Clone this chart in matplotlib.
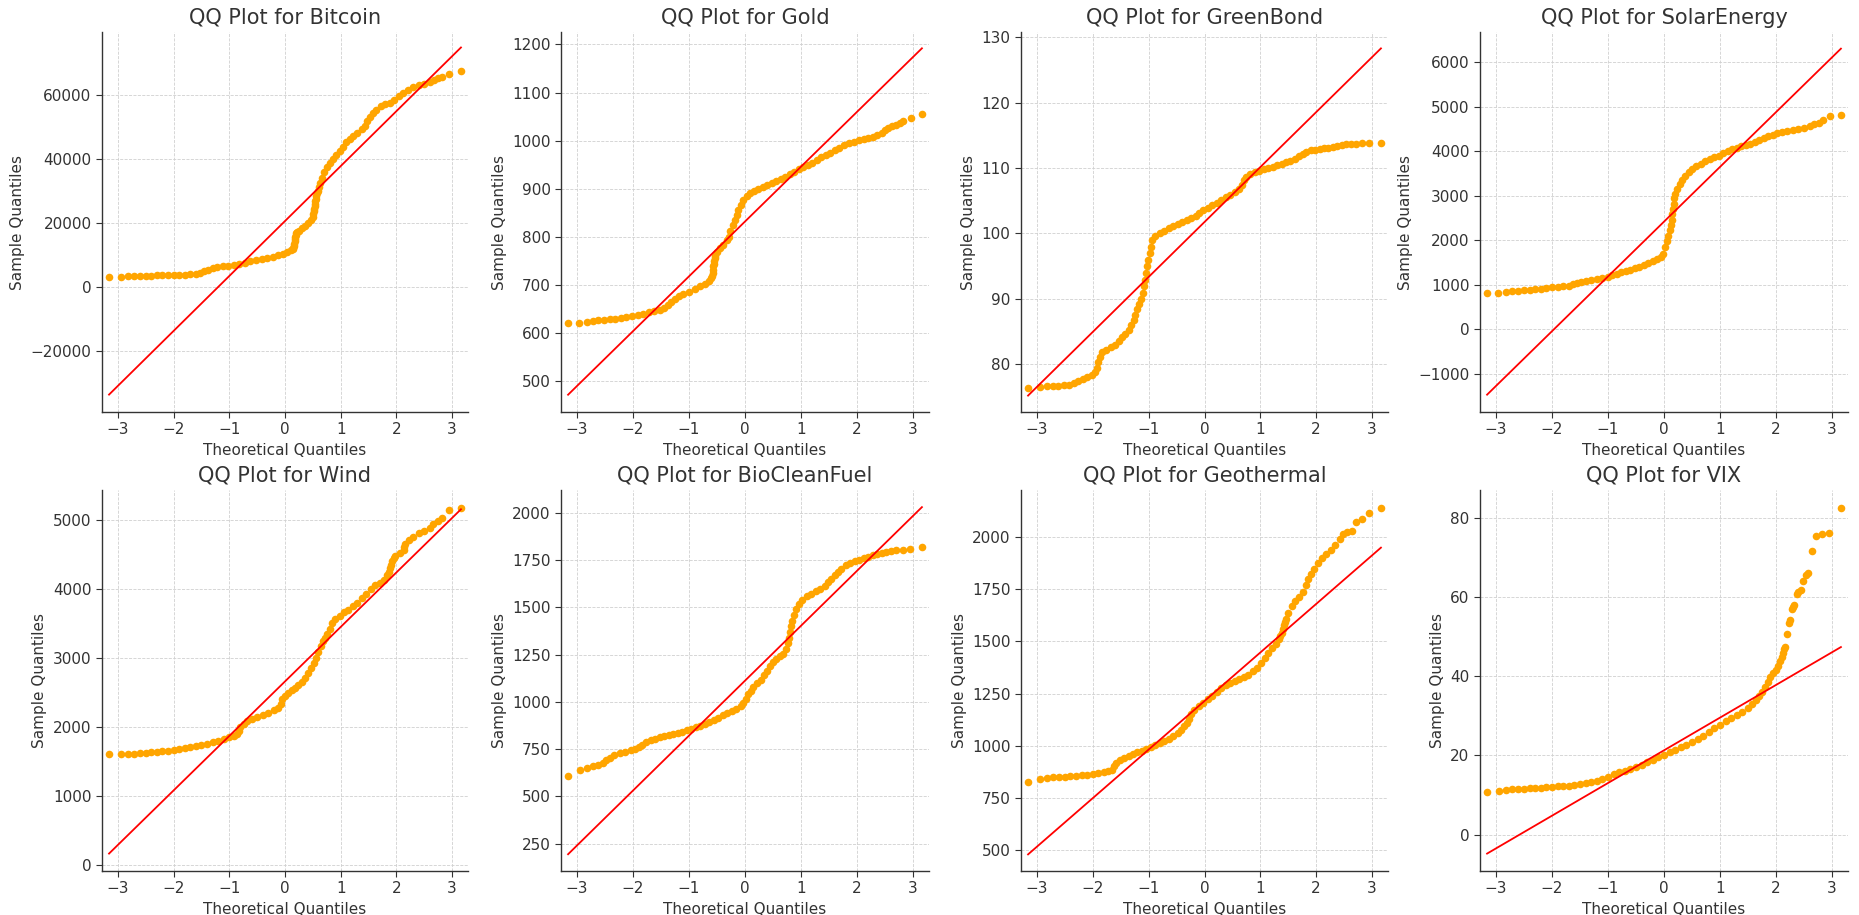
import numpy as np
import matplotlib
matplotlib.use("Agg")
import matplotlib.pyplot as plt

# panel order
assets = ['Bitcoin', 'Gold', 'GreenBond', 'SolarEnergy',
          'Wind', 'BioCleanFuel', 'Geothermal', 'VIX']

# reference line (statsmodels 's' line): mean + std * theoretical quantile
line_intercept = [20600, 831.5, 101.75, 2418, 2660, 1112, 1214, 21.3]
line_slope = [17200, 114.1, 8.40, 1228, 788, 290.6, 233, 8.26]

# y ranges as shown in the reference
y_limits = [(-39200, 79800), (435, 1226), (72.7, 130.8), (-1851, 6672),
            (-82, 5429), (105, 2121), (398, 2227), (-9.2, 87.1)]

# (theoretical quantile, sample quantile) pairs
bitcoin_x = [-3.16, -2.95, -2.82, -2.72, -2.6, -2.5, -2.4, -2.3, -2.2, -2.1, -2.0, -1.9,
             -1.8, -1.7, -1.6, -1.52, -1.45, -1.38, -1.3, -1.22, -1.12, -1.02, -0.92,
             -0.82, -0.72, -0.62, -0.52, -0.42, -0.32, -0.22, -0.12, -0.04, 0.04, 0.1,
             0.14, 0.15, 0.16, 0.17, 0.175, 0.18, 0.185, 0.19, 0.2, 0.22, 0.25, 0.3,
             0.36, 0.42, 0.47, 0.5, 0.51, 0.52, 0.525, 0.53, 0.535, 0.54, 0.55, 0.56,
             0.575, 0.59, 0.61, 0.63, 0.66, 0.7, 0.75, 0.8, 0.86, 0.92, 0.98, 1.04,
             1.1, 1.16, 1.22, 1.3, 1.38, 1.44, 1.48, 1.52, 1.58, 1.64, 1.72, 1.8, 1.88,
             1.96, 2.04, 2.12, 2.2, 2.3, 2.4, 2.5, 2.6, 2.68, 2.75, 2.82, 2.95, 3.16]
bitcoin_y = [3200, 3200, 3300, 3350, 3400, 3450, 3500, 3550, 3600, 3650, 3700, 3750,
             3800, 3900, 4000, 4300, 4900, 5400, 5900, 6200, 6400, 6500, 6700,
             7000, 7600, 8000, 8300, 8700, 9000, 9400, 9900, 10400, 10900, 11400,
             11800, 12200, 12800, 13500, 14200, 14900, 15600, 16200, 16700, 17100, 17500, 18300,
             19200, 20000, 21000, 22000, 22800, 23600, 24400, 25200, 26000, 26800, 27600, 28400,
             29300, 30100, 31300, 32500, 34200, 36000, 37500, 38800, 40000, 41200, 42600, 43900,
             45300, 46400, 47200, 48300, 49300, 50400, 51800, 53300, 54500, 55500, 56500, 57200,
             57700, 58500, 59700, 60700, 61600, 62500, 63100, 63500, 64200, 64800, 65300, 65800,
             66600, 67500]

gold_x = [-3.16, -2.96, -2.83, -2.72, -2.62, -2.52, -2.42, -2.32, -2.22, -2.12, -2.02,
          -1.92, -1.82, -1.72, -1.62, -1.52, -1.44, -1.38, -1.32, -1.25, -1.18, -1.1,
          -1.0, -0.9, -0.8, -0.72, -0.64, -0.6, -0.59, -0.58, -0.575, -0.57, -0.56, -0.55,
          -0.54, -0.53, -0.5, -0.45, -0.39, -0.33, -0.29, -0.26, -0.22, -0.18, -0.15,
          -0.12, -0.08, -0.03, 0.03, 0.09, 0.16, 0.24, 0.32, 0.4, 0.48, 0.56, 0.64, 0.72,
          0.8, 0.88, 0.96, 1.04, 1.12, 1.2, 1.28, 1.36, 1.44, 1.52, 1.6, 1.68, 1.76,
          1.85, 1.94, 2.03, 2.12, 2.2, 2.28, 2.36, 2.44, 2.5, 2.56, 2.62, 2.7, 2.76,
          2.83, 2.96, 3.16]
gold_y = [621, 621, 623, 625, 626, 627, 628, 629, 630, 632, 634,
          637, 640, 643, 646, 648, 652, 658, 665, 671, 677, 680,
          685, 690, 697, 702, 708, 714, 719, 725, 731, 738, 744, 750,
          755, 760, 768, 776, 783, 792, 800, 812, 824, 835, 845,
          856, 866, 876, 884, 890, 895, 899, 903, 907, 911, 915, 920, 925,
          930, 935, 940, 945, 950, 954, 959, 965, 970, 975, 980, 985, 990,
          994, 997, 1001, 1004, 1006, 1008, 1011, 1015, 1022, 1027, 1030, 1033, 1036,
          1041, 1046, 1055]

greenbond_x = [-3.16, -2.95, -2.82, -2.72, -2.62, -2.52, -2.42, -2.34, -2.26, -2.18, -2.1,
               -2.02, -1.96, -1.93, -1.91, -1.88, -1.84, -1.76, -1.68, -1.6, -1.54, -1.48,
               -1.42, -1.36, -1.31, -1.27, -1.24, -1.21, -1.18, -1.14, -1.1, -1.08, -1.06,
               -1.05, -1.03, -1.01, -0.98, -0.96, -0.94, -0.88, -0.8, -0.72, -0.64, -0.56,
               -0.48, -0.4, -0.32, -0.24, -0.16, -0.1, -0.02, 0.06, 0.14, 0.22, 0.3, 0.38,
               0.46, 0.54, 0.62, 0.67, 0.71, 0.75, 0.82, 0.9, 0.98, 1.06, 1.14, 1.22, 1.3,
               1.38, 1.46, 1.54, 1.62, 1.7, 1.76, 1.82, 1.9, 1.98, 2.06, 2.14, 2.22, 2.3,
               2.38, 2.46, 2.54, 2.62, 2.72, 2.82, 2.95, 3.16]
greenbond_y = [76.4, 76.5, 76.6, 76.6, 76.7, 76.8, 76.9, 77.1, 77.4, 77.7, 78.0,
               78.3, 78.8, 79.5, 80.3, 81.1, 81.8, 82.2, 82.6, 83.0, 83.5, 84.1,
               84.7, 85.3, 86.0, 86.8, 87.6, 88.4, 89.2, 90.0, 90.9, 91.9, 92.9,
               94.0, 95.0, 96.0, 97.0, 98.0, 99.0, 99.6, 100.0, 100.4, 100.8, 101.1,
               101.4, 101.7, 102.0, 102.3, 102.7, 103.2, 103.6, 103.9, 104.3, 104.7, 105.1,
               105.5, 105.9, 106.3, 106.8, 107.4, 108.1, 108.7, 109.1, 109.4, 109.6, 109.8,
               110.0, 110.2, 110.4, 110.6, 110.9, 111.1, 111.4, 111.8, 112.2, 112.5, 112.7,
               112.8, 112.9, 113.0, 113.1, 113.2, 113.4, 113.5, 113.6, 113.7, 113.7, 113.8,
               113.9, 113.9]

solar_x = [-3.16, -2.96, -2.82, -2.72, -2.6, -2.5, -2.4, -2.3, -2.2, -2.1, -2.0, -1.9,
           -1.8, -1.7, -1.62, -1.56, -1.48, -1.4, -1.3, -1.2, -1.1, -1.0, -0.92, -0.84,
           -0.76, -0.68, -0.6, -0.52, -0.44, -0.36, -0.28, -0.2, -0.12, -0.06, -0.02,
           0.02, 0.05, 0.08, 0.1, 0.12, 0.14, 0.15, 0.16, 0.17, 0.18, 0.2, 0.24, 0.28,
           0.33, 0.38, 0.44, 0.5, 0.58, 0.66, 0.74, 0.82, 0.9, 0.98, 1.06, 1.14, 1.22,
           1.3, 1.38, 1.46, 1.54, 1.62, 1.7, 1.78, 1.86, 1.94, 2.02, 2.1, 2.2, 2.3, 2.4,
           2.5, 2.6, 2.68, 2.76, 2.84, 2.96, 3.16]
solar_y = [810, 815, 845, 855, 865, 880, 890, 905, 915, 930, 945, 955,
           965, 980, 1010, 1050, 1070, 1090, 1105, 1125, 1150, 1185, 1220, 1255,
           1285, 1310, 1340, 1370, 1400, 1440, 1490, 1540, 1580, 1620, 1700,
           1850, 1980, 2100, 2220, 2340, 2460, 2580, 2700, 2820, 2940, 3040, 3150, 3260,
           3360, 3440, 3530, 3600, 3670, 3720, 3770, 3820, 3860, 3900, 3960, 4010, 4050,
           4080, 4110, 4140, 4170, 4210, 4250, 4290, 4330, 4370, 4400, 4420, 4450, 4470,
           4500, 4530, 4570, 4600, 4630, 4700, 4780, 4800]

wind_x = [-3.16, -2.95, -2.82, -2.72, -2.6, -2.5, -2.4, -2.3, -2.2, -2.1, -2.0, -1.9,
          -1.8, -1.7, -1.6, -1.5, -1.4, -1.3, -1.2, -1.1, -1.0, -0.92, -0.86, -0.83,
          -0.8, -0.74, -0.68, -0.6, -0.5, -0.4, -0.3, -0.2, -0.12, -0.08, -0.05, 0.0,
          0.06, 0.12, 0.18, 0.24, 0.3, 0.36, 0.42, 0.47, 0.52, 0.56, 0.6, 0.64, 0.68,
          0.72, 0.76, 0.8, 0.84, 0.9, 0.98, 1.06, 1.14, 1.22, 1.3, 1.38, 1.46, 1.54,
          1.62, 1.7, 1.78, 1.84, 1.86, 1.88, 1.9, 1.92, 1.95, 1.98, 2.06, 2.13, 2.145,
          2.16, 2.22, 2.3, 2.4, 2.5, 2.6, 2.66, 2.74, 2.82, 2.95, 3.16]
wind_y = [1605, 1608, 1610, 1615, 1622, 1628, 1635, 1642, 1650, 1656, 1665, 1678,
          1690, 1705, 1720, 1738, 1758, 1780, 1805, 1830, 1855, 1875, 1900, 1950,
          2000, 2050, 2090, 2120, 2150, 2180, 2210, 2240, 2280, 2340, 2400, 2450,
          2490, 2530, 2570, 2610, 2650, 2710, 2780, 2850, 2930, 3000, 3080, 3170, 3240,
          3290, 3340, 3420, 3500, 3560, 3610, 3660, 3700, 3750, 3800, 3870, 3930, 4000,
          4050, 4090, 4130, 4200, 4250, 4300, 4350, 4400, 4440, 4480, 4520, 4560, 4605,
          4650, 4700, 4750, 4800, 4840, 4880, 4930, 4980, 5030, 5145, 5175]

bio_x = [-3.16, -2.95, -2.82, -2.72, -2.62, -2.54, -2.48, -2.42, -2.34, -2.24, -2.14,
         -2.04, -1.96, -1.9, -1.84, -1.76, -1.68, -1.6, -1.52, -1.44, -1.36, -1.28,
         -1.2, -1.12, -1.04, -0.96, -0.88, -0.8, -0.72, -0.64, -0.56, -0.48, -0.4,
         -0.32, -0.24, -0.16, -0.08, -0.03, 0.02, 0.06, 0.1, 0.15, 0.22, 0.28, 0.34,
         0.39, 0.44, 0.5, 0.56, 0.62, 0.68, 0.73, 0.76, 0.78, 0.8, 0.82, 0.84, 0.87,
         0.91, 0.96, 1.02, 1.1, 1.18, 1.26, 1.34, 1.42, 1.48, 1.54, 1.6, 1.66, 1.72,
         1.8, 1.88, 1.96, 2.04, 2.12, 2.2, 2.28, 2.36, 2.44, 2.52, 2.6, 2.7, 2.82,
         2.95, 3.16]
bio_y = [606, 638, 648, 658, 668, 676, 690, 705, 720, 730, 737,
         743, 750, 762, 774, 785, 796, 806, 813, 818, 823, 829,
         835, 842, 850, 858, 866, 874, 883, 893, 903, 915, 928,
         940, 950, 962, 978, 995, 1015, 1040, 1060, 1080, 1098, 1115, 1140,
         1165, 1190, 1210, 1225, 1240, 1255, 1280, 1310, 1340, 1370, 1400, 1430, 1460,
         1490, 1520, 1540, 1558, 1572, 1585, 1597, 1612, 1632, 1652, 1670, 1686, 1705,
         1722, 1735, 1745, 1753, 1760, 1768, 1776, 1784, 1790, 1795, 1799, 1802, 1806,
         1809, 1822]

geo_x = [-3.16, -2.95, -2.82, -2.72, -2.6, -2.5, -2.4, -2.3, -2.2, -2.1, -2.0, -1.9,
         -1.8, -1.72, -1.66, -1.62, -1.58, -1.52, -1.44, -1.36, -1.28, -1.2, -1.12,
         -1.04, -0.96, -0.88, -0.8, -0.72, -0.64, -0.56, -0.48, -0.42, -0.36, -0.32,
         -0.28, -0.24, -0.18, -0.1, -0.02, 0.06, 0.14, 0.22, 0.3, 0.38, 0.46, 0.54,
         0.62, 0.7, 0.78, 0.86, 0.94, 1.02, 1.08, 1.14, 1.2, 1.28, 1.34, 1.36, 1.38,
         1.4, 1.42, 1.44, 1.46, 1.5, 1.56, 1.62, 1.7, 1.76, 1.82, 1.86, 1.9, 1.96,
         2.04, 2.1, 2.18, 2.26, 2.34, 2.42, 2.48, 2.56, 2.64, 2.72, 2.82, 2.95, 3.16]
geo_y = [825, 842, 846, 848, 850, 851, 853, 855, 857, 860, 864, 868,
         872, 876, 882, 900, 918, 930, 940, 950, 960, 968, 976,
         986, 994, 1002, 1012, 1022, 1034, 1046, 1060, 1075, 1092, 1110,
         1130, 1150, 1172, 1190, 1205, 1222, 1240, 1258, 1275, 1290, 1300, 1310,
         1318, 1328, 1340, 1356, 1374, 1395, 1420, 1445, 1468, 1490, 1510, 1525, 1540,
         1560, 1580, 1595, 1610, 1638, 1670, 1695, 1712, 1735, 1770, 1800, 1825, 1850,
         1875, 1900, 1920, 1940, 1962, 1990, 2015, 2025, 2028, 2075, 2090, 2115, 2142]

vix_x = [-3.16, -2.95, -2.82, -2.72, -2.6, -2.5, -2.4, -2.3, -2.2, -2.1, -2.0, -1.9,
         -1.8, -1.7, -1.6, -1.5, -1.4, -1.3, -1.2, -1.1, -1.0, -0.9, -0.8, -0.7, -0.6,
         -0.5, -0.4, -0.3, -0.2, -0.1, 0.0, 0.1, 0.2, 0.3, 0.4, 0.5, 0.6, 0.7, 0.8,
         0.9, 1.0, 1.1, 1.2, 1.3, 1.4, 1.5, 1.58, 1.64, 1.7, 1.75, 1.8, 1.85, 1.9,
         1.95, 2.0, 2.04, 2.07, 2.1, 2.12, 2.14, 2.16, 2.2, 2.23, 2.25, 2.28, 2.3,
         2.33, 2.37, 2.4, 2.44, 2.48, 2.53, 2.58, 2.65, 2.72, 2.82, 2.95, 3.16]
vix_y = [10.8, 10.9, 11.3, 11.4, 11.5, 11.6, 11.7, 11.8, 11.9, 12.0, 12.1, 12.2,
         12.3, 12.4, 12.6, 12.8, 13.0, 13.2, 13.6, 14.1, 14.6, 15.2, 15.7, 16.1, 16.5,
         17.0, 17.6, 18.3, 18.9, 19.6, 20.2, 20.9, 21.5, 22.1, 22.6, 23.3, 24.1, 25.0, 26.0,
         27.0, 27.8, 28.6, 29.4, 30.2, 31.0, 32.0, 33.0, 34.0, 35.0, 36.0, 37.2, 38.5, 39.8,
         40.8, 41.5, 42.5, 43.8, 45.0, 46.0, 47.0, 47.5, 50.8, 53.5, 54.3, 56.9, 57.5,
         58.0, 60.8, 61.3, 61.7, 64.0, 65.6, 66.0, 71.8, 75.5, 76.0, 76.3, 82.6]

sample_x = [bitcoin_x, gold_x, greenbond_x, solar_x, wind_x, bio_x, geo_x, vix_x]
sample_y = [bitcoin_y, gold_y, greenbond_y, solar_y, wind_y, bio_y, geo_y, vix_y]

TEXT = '#333333'
plt.rcParams['font.family'] = 'DejaVu Sans'
plt.rcParams['text.color'] = TEXT
plt.rcParams['axes.labelcolor'] = TEXT
plt.rcParams['xtick.color'] = TEXT
plt.rcParams['ytick.color'] = TEXT

W, H = 1859, 915
fig = plt.figure(figsize=(W / 100, H / 100), dpi=100)

# axes boxes in pixels: left, top, right, bottom
col_lr = [(102, 468), (561, 929), (1021, 1388), (1480, 1848)]
row_tb = [(32, 412), (490, 871)]

for i, name in enumerate(assets):
    r, c = divmod(i, 4)
    l, rr = col_lr[c]
    t, b = row_tb[r]
    ax = fig.add_axes([l / W, 1 - b / H, (rr - l) / W, (b - t) / H])

    x = np.array(sample_x[i])
    y = np.array(sample_y[i])
    ax.scatter(x, y, s=30, color='orange', linewidths=0, zorder=2)

    lx = np.array([x.min(), x.max()])
    ax.plot(lx, line_intercept[i] + line_slope[i] * lx, color='red', lw=1.3, zorder=3)

    ax.margins(x=0.02)
    ax.set_ylim(*y_limits[i])
    ax.set_title(f'QQ Plot for {name}', fontsize=15, color=TEXT)
    ax.set_xlabel('Theoretical Quantiles', fontsize=11)
    ax.set_ylabel('Sample Quantiles', fontsize=11)
    ax.tick_params(labelsize=11, length=4, width=0.8)
    ax.set_xticks([-3, -2, -1, 0, 1, 2, 3])
    ax.grid(True, linestyle='--', color='#d0d0d0', linewidth=0.6)
    ax.set_axisbelow(True)
    for side in ['top', 'right']:
        ax.spines[side].set_visible(False)
    for side in ['left', 'bottom']:
        ax.spines[side].set_color(TEXT)
        ax.spines[side].set_linewidth(1.0)

fig.savefig('out.png', dpi=100)
